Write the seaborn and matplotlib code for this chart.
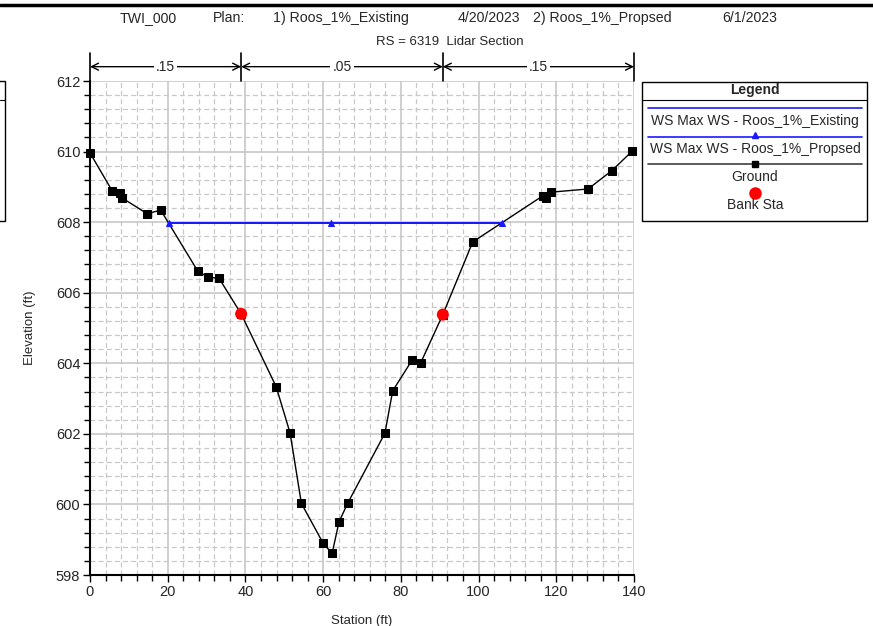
import numpy as np
import pandas as pd
import matplotlib.pyplot as plt
import matplotlib.patches as mpatches
import matplotlib.lines as mlines
from matplotlib.ticker import MultipleLocator
import seaborn as sns

# Ground profile (station, elevation)
ground_sta = [0, 5.7, 7.6, 8.2, 14.7, 18.2, 27.7, 30.3, 33.2, 38.9, 47.9, 51.5, 54.4,
              60.0, 62.3, 64.1, 66.3, 75.9, 77.9, 82.9, 85.1, 90.8, 98.5, 116.6, 117.3,
              118.7, 128.2, 134.3, 139.6]
ground_elev = [609.96, 608.89, 608.83, 608.69, 608.24, 608.34, 606.62, 606.44, 606.41,
               605.40, 603.34, 602.02, 600.03, 598.90, 598.61, 599.51, 600.03, 602.02,
               603.22, 604.09, 604.01, 605.38, 607.44, 608.75, 608.69, 608.85, 608.94,
               609.46, 610.02]

# Bank stations
bank_sta = [38.9, 90.8]
bank_elev = [605.40, 605.38]

# Water surfaces
ws_exist_sta = [20.25, 106.0]
ws_exist_elev = [607.98, 607.98]
ws_prop_sta = [20.25, 62.1, 106.0]
ws_prop_elev = [607.98, 607.98, 607.98]

# Manning's n regions
n_breaks = [0, 38.9, 90.8, 140]
n_values = [".15", ".05", ".15"]

title_parts = ["TWI_000", "Plan:", "1) Roos_1%_Existing", "4/20/2023",
               "2) Roos_1%_Propsed", "6/1/2023"]
title_x_px = [120, 213, 273, 458, 533, 722]
subtitle = "RS = 6319  Lidar Section"
legend_labels = ["WS Max WS - Roos_1%_Existing", "WS Max WS - Roos_1%_Propsed",
                 "Ground", "Bank Sta"]

sns.set_style("white")
plt.rcParams['font.family'] = ['Liberation Sans', 'DejaVu Sans']

W, H = 873, 626
fig = plt.figure(figsize=(W / 100, H / 100), dpi=100)


def fx(px):
    return px / W


def fy(py):
    return 1 - py / H


ax = fig.add_axes([fx(90), fy(575), fx(634) - fx(90), fy(81) - fy(575)])

ground = pd.DataFrame({"sta": ground_sta, "elev": ground_elev})
sns.lineplot(data=ground, x="sta", y="elev", sort=False, color="black", lw=1.0,
             marker="s", markersize=6, markeredgecolor="black", ax=ax, clip_on=False,
             zorder=3)
sns.lineplot(x=ws_exist_sta, y=ws_exist_elev, color="#1a1aff", lw=1.4, ax=ax, zorder=4)
sns.lineplot(x=ws_prop_sta, y=ws_prop_elev, color="#1a1aff", lw=1.4, marker="^",
             markersize=5, markeredgecolor="#1a1aff", ax=ax, zorder=4)
sns.scatterplot(x=bank_sta, y=bank_elev, color="red", s=75, edgecolor="none", ax=ax,
                zorder=5)

ax.set_xlim(0, 140)
ax.set_ylim(598, 612)
ax.xaxis.set_major_locator(MultipleLocator(20))
ax.xaxis.set_minor_locator(MultipleLocator(4))
ax.yaxis.set_major_locator(MultipleLocator(2))
ax.yaxis.set_minor_locator(MultipleLocator(0.4))
ax.set_axisbelow(True)
ax.grid(which="major", color="#c8c8c8", lw=1.2, ls="-")
ax.grid(which="minor", color="#c8c8c8", lw=0.9, ls=(0, (4, 2.5)))
for s in ["top", "right"]:
    ax.spines[s].set_visible(False)
for s in ["left", "bottom"]:
    ax.spines[s].set_color("black")
    ax.spines[s].set_linewidth(1.5)
ax.tick_params(which="major", direction="out", length=5, width=1, color="black",
               labelsize=10.5, pad=2, left=True, bottom=True)
ax.tick_params(which="minor", direction="out", length=4, width=1, color="black",
               left=True, bottom=True)
ax.set_xlabel("Station (ft)", fontsize=9.5, labelpad=12)
ax.set_ylabel("Elevation (ft)", fontsize=9.5, labelpad=14)

# Manning's n bar above the plot
trans = ax.get_xaxis_transform()
for b in n_breaks:
    ax.plot([b, b], [1.0, 1.057], transform=trans, color="black", lw=1.2, clip_on=False)
for i, n in enumerate(n_values):
    x0, x1 = n_breaks[i], n_breaks[i + 1]
    ax.annotate("", xy=(x0, 1.029), xytext=(x1, 1.029), xycoords=trans,
                textcoords=trans,
                arrowprops=dict(arrowstyle="<->,head_length=0.5,head_width=0.25",
                                color="black", lw=1.0, shrinkA=0, shrinkB=0))
    ax.text((x0 + x1) / 2, 1.029, n, transform=trans, ha="center", va="center",
            fontsize=10, bbox=dict(facecolor="white", edgecolor="none", pad=1.5))

# Titles
for part, xp in zip(title_parts, title_x_px):
    fig.text(fx(xp), fy(18), part, ha="left", va="center", fontsize=10.2)
fig.text(fx(450), fy(42), subtitle, ha="center", va="center", fontsize=9.5)

# Top rule
fig.add_artist(mlines.Line2D([0, 1], [fy(5), fy(5)], color="black", lw=2.5))

# Partially visible box at left edge
fig.add_artist(mpatches.Rectangle((fx(-20), fy(221)), fx(25), fy(81) - fy(221),
                                  fill=False, edgecolor="black", lw=1.0))
fig.add_artist(mlines.Line2D([0, fx(5)], [fy(100), fy(100)], color="black", lw=0.8))

# Legend box
fig.add_artist(mpatches.Rectangle((fx(642), fy(221)), fx(867) - fx(642),
                                  fy(82) - fy(221), fill=False, edgecolor="black",
                                  lw=1.0))
fig.text(fx(755), fy(90), "Legend", ha="center", va="center", fontsize=10,
         fontweight="bold")
fig.add_artist(mlines.Line2D([fx(642), fx(867)], [fy(100), fy(100)], color="black",
                             lw=0.8))
fig.add_artist(mlines.Line2D([fx(648), fx(862)], [fy(108.3), fy(108.3)],
                             color="#1a1aff", lw=1.2))
fig.text(fx(755), fy(121.5), legend_labels[0], ha="center", va="center", fontsize=10)
fig.add_artist(mlines.Line2D([fx(648), fx(862)], [fy(136.7), fy(136.7)],
                             color="#1a1aff", lw=1.2))
fig.add_artist(mlines.Line2D([fx(755)], [fy(134.5)], color="#1a1aff", marker="^",
                             markersize=5, lw=0))
fig.text(fx(755), fy(149), legend_labels[1], ha="center", va="center", fontsize=10)
fig.add_artist(mlines.Line2D([fx(648), fx(862)], [fy(164), fy(164)],
                             color="#404040", lw=1.2))
fig.add_artist(mlines.Line2D([fx(755)], [fy(164)], color="black", marker="s",
                             markersize=5, lw=0))
fig.text(fx(755), fy(177), legend_labels[2], ha="center", va="center", fontsize=10)
fig.add_artist(mlines.Line2D([fx(755)], [fy(193)], color="red", marker="o",
                             markersize=8, lw=0))
fig.text(fx(755), fy(205), legend_labels[3], ha="center", va="center", fontsize=10)

plt.savefig("out.png", dpi=100)
